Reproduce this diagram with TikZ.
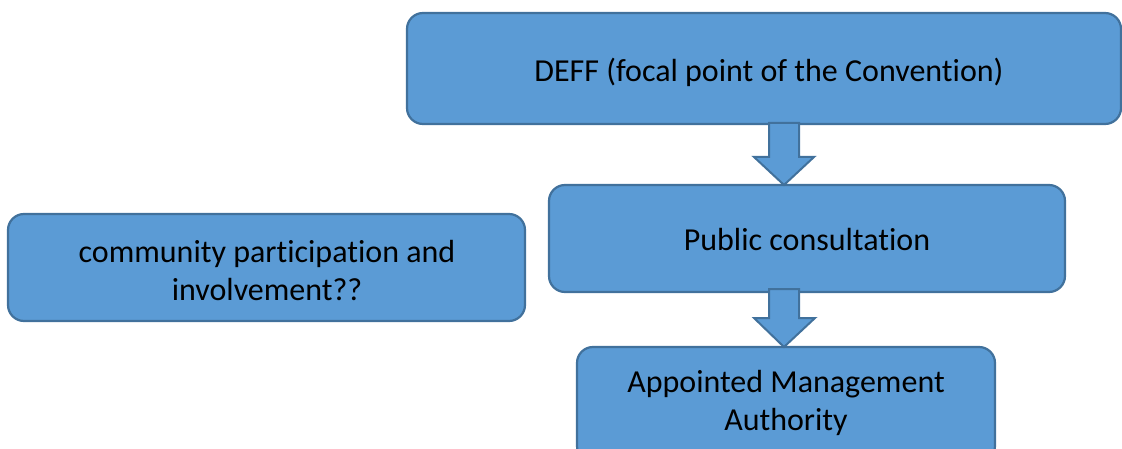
\documentclass[tikz,border=0pt]{standalone}
\usepackage{fontspec}
\setmainfont[Ligatures={NoCommon}]{Carlito}
\definecolor{boxfill}{HTML}{5B9BD5}
\definecolor{boxline}{HTML}{41719C}
\tikzset{
  flowbox/.style={draw=boxline, fill=boxfill, line width=2.2pt, rounded corners=16pt},
  flowtext/.style={font=\fontsize{32}{38}\selectfont, align=center, text=black, inner sep=0pt},
  blockarrow/.style={draw=boxline, fill=boxfill, line width=2pt, line join=miter}
}
\begin{document}
\begin{tikzpicture}[x=1pt,y=-1pt]
\useasboundingbox (0,0) rectangle (1122,449);
\clip (0,0) rectangle (1122,449);
% boxes
\draw[flowbox] (407,13) rectangle (1121,124);
\node[flowtext] (deff) at (769,72) {DEFF (focal point of the Convention)};
\draw[flowbox] (549,185) rectangle (1065,292);
\node[flowtext] (pub) at (807,240) {Public consultation};
\draw[flowbox] (8,214) rectangle (525,321);
\node[flowtext] (comm) at (267,271) {community participation and\\involvement??};
\draw[flowbox] (577,347) rectangle (995,462);
\node[flowtext] (amaut) at (786,403) {Appointed Management\\Authority};
% block arrows
\draw[blockarrow] (769,123) -- (799,123) -- (799,157) -- (814,157) -- (784,185) -- (754,157) -- (769,157) -- cycle;
\draw[blockarrow] (769,289) -- (799,289) -- (799,318) -- (815,318) -- (784,347) -- (754,318) -- (769,318) -- cycle;
\end{tikzpicture}
\end{document}
